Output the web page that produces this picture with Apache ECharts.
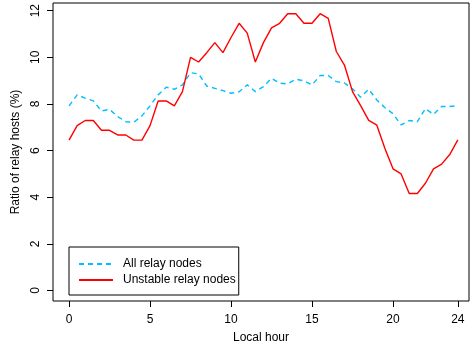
<!DOCTYPE html>
<html>
<head>
<meta charset="utf-8">
<script src="https://cdn.jsdelivr.net/npm/echarts@6/dist/echarts.min.js"></script>
<style>
  html, body { margin: 0; padding: 0; background: #fff; }
  #chart { width: 474px; height: 352px; }
</style>
</head>
<body>
<div id="chart"></div>
<script>
// local hour, half-hour steps
const hours = [0, 0.5, 1, 1.5, 2, 2.5, 3, 3.5, 4, 4.5, 5, 5.5, 6, 6.5, 7, 7.5, 8, 8.5, 9, 9.5,
  10, 10.5, 11, 11.5, 12, 12.5, 13, 13.5, 14, 14.5, 15, 15.5, 16, 16.5, 17, 17.5, 18, 18.5, 19, 19.5,
  20, 20.5, 21, 21.5, 22, 22.5, 23, 23.5, 24];

const allRelay = [7.92, 8.39, 8.25, 8.13, 7.70, 7.77, 7.46, 7.24, 7.22, 7.49,
  7.92, 8.39, 8.72, 8.63, 8.82, 9.34, 9.29, 8.77, 8.67, 8.57,
  8.46, 8.52, 8.82, 8.53, 8.74, 9.10, 8.89, 8.86, 9.06, 8.99,
  8.82, 9.22, 9.22, 8.96, 8.90, 8.65, 8.29, 8.63, 8.17, 7.84,
  7.58, 7.10, 7.29, 7.24, 7.80, 7.55, 7.89, 7.89, 7.93];

const unstableRelay = [6.45, 7.07, 7.29, 7.29, 6.87, 6.87, 6.67, 6.67, 6.45, 6.45,
  7.07, 8.13, 8.13, 7.92, 8.53, 10.0, 9.80, 10.2, 10.63, 10.2,
  10.85, 11.46, 11.04, 9.80, 10.63, 11.26, 11.46, 11.87, 11.87, 11.46,
  11.46, 11.87, 11.67, 10.25, 9.67, 8.53, 7.93, 7.30, 7.09, 6.09,
  5.22, 5.00, 4.16, 4.16, 4.60, 5.22, 5.42, 5.83, 6.46];

const xTicks = [0, 5, 10, 15, 20, 24];
const yTicks = [0, 2, 4, 6, 8, 10, 12];

const font = 'Liberation Sans, Arial, sans-serif';
const chart = echarts.init(document.getElementById('chart'), null, { renderer: 'canvas' });

const pairs = (ys) => hours.map((h, i) => [h, ys[i]]);

chart.setOption({
  animation: false,
  backgroundColor: '#fff',
  grid: {
    left: 53, right: 5, top: 3, bottom: 51,
    show: true, borderColor: '#000', borderWidth: 1, backgroundColor: 'transparent'
  },
  legend: {
    orient: 'vertical',
    left: 69, top: 247,
    padding: [11, 3, 9, 9],
    borderColor: '#000', borderWidth: 1,
    itemWidth: 34, itemHeight: 10, itemGap: 4,
    itemStyle: { opacity: 0 },
    textStyle: { fontFamily: font, fontSize: 12, color: '#000', padding: [0, 0, 0, 5] },
    data: ['All relay nodes', 'Unstable relay nodes']
  },
  xAxis: {
    type: 'value',
    min: -0.99, max: 24.69,
    name: 'Local hour',
    nameLocation: 'middle',
    nameGap: 31,
    nameTextStyle: { fontFamily: font, fontSize: 12, color: '#000' },
    axisLine: { show: false, onZero: false },
    axisTick: { show: true, inside: false, length: 6, customValues: xTicks, lineStyle: { color: '#000' } },
    axisLabel: { customValues: xTicks, fontFamily: font, fontSize: 12, color: '#000', margin: 13 },
    splitLine: { show: false }
  },
  yAxis: {
    type: 'value',
    min: -0.45, max: 12.33,
    name: 'Ratio of relay hosts (%)',
    nameLocation: 'middle',
    nameGap: 24,
    nameRotate: 90,
    nameTextStyle: { fontFamily: font, fontSize: 12, color: '#000' },
    axisLine: { show: false, onZero: false },
    axisTick: { show: true, inside: false, length: 6, customValues: yTicks, lineStyle: { color: '#000' } },
    axisLabel: { customValues: yTicks, rotate: 90, fontFamily: font, fontSize: 12, color: '#000', margin: 11 },
    splitLine: { show: false }
  },
  series: [
    {
      name: 'All relay nodes',
      type: 'line',
      data: pairs(allRelay),
      symbol: 'none',
      color: '#00BFFF',
      lineStyle: { color: '#00BFFF', width: 1.4, type: [5, 4] }
    },
    {
      name: 'Unstable relay nodes',
      type: 'line',
      data: pairs(unstableRelay),
      symbol: 'none',
      color: '#FF0000',
      lineStyle: { color: '#FF0000', width: 1.4 }
    }
  ]
});
</script>
</body>
</html>
